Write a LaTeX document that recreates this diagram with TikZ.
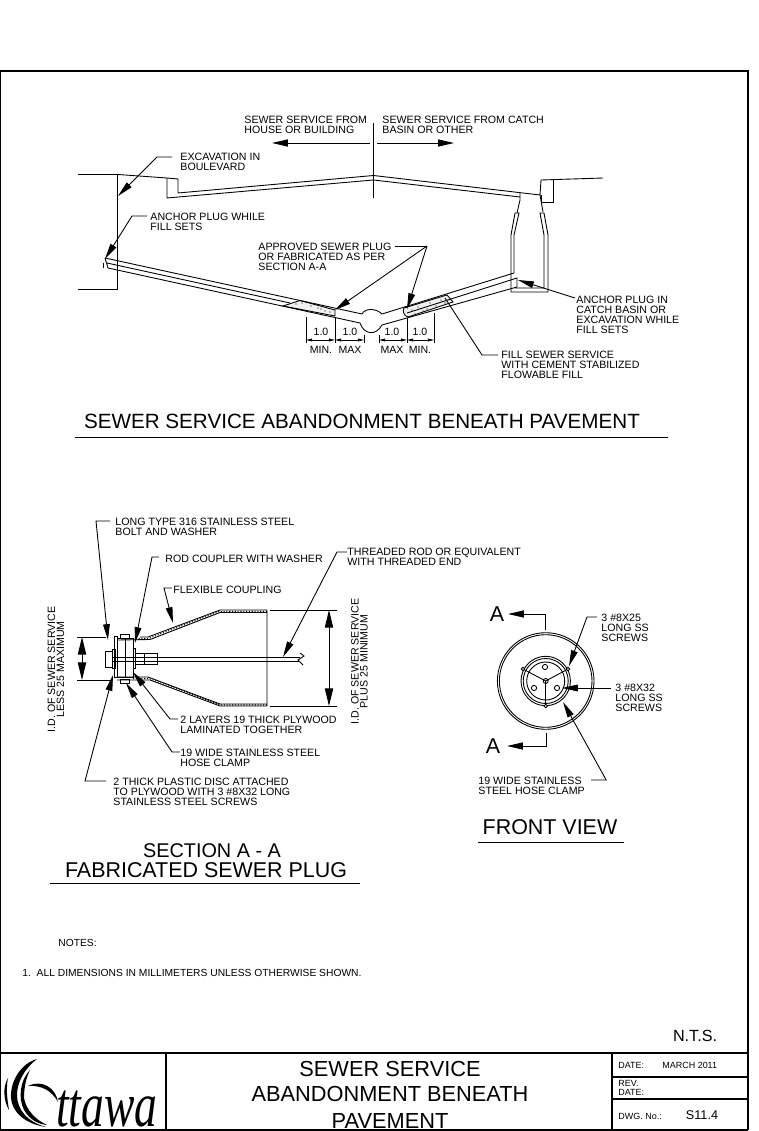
\documentclass[tikz,border=0pt]{standalone}
\usepackage{fontspec}
\setmainfont{Liberation Sans}
\newfontfamily\logofont{Liberation Serif}
\usetikzlibrary{arrows.meta}
\tikzset{
    lbl/.style={inner sep=0pt, anchor=north west, align=left, font=\fontsize{6.05}{5.67}\selectfont},
    dimtxt/.style={inner sep=0pt, font=\fontsize{6}{6}\selectfont},
    vertlbl/.style={inner sep=0pt, rotate=90, align=center, font=\fontsize{6.05}{5.1}\selectfont},
    heading/.style={inner sep=0pt, font=\fontsize{12.2}{12}\selectfont},
    block/.style={inner sep=0pt, font=\fontsize{12.4}{12}\selectfont},
    small/.style={inner sep=0pt, anchor=west, align=left, font=\fontsize{5.1}{5.4}\selectfont},
    leader/.style={-{Triangle[length=9pt,width=3.8pt]}},
    dimline/.style={{Triangle[length=3.5pt,width=1.6pt]}-{Triangle[length=3.5pt,width=1.6pt]}},
    bigdim/.style={{Triangle[length=10pt,width=4.7pt]}-{Triangle[length=10pt,width=4.7pt]}},
    sect/.style={-{Triangle[length=9pt,width=4pt]}},
    heavy/.style={line width=1.1pt},
}
\begin{document}
\begin{tikzpicture}[x=0.02cm, y=-0.02cm, line width=0.5pt]
\useasboundingbox (0,0) rectangle (759,1131);

% sheet and title block
\draw[line width=1.3pt] (0,71) -- (748,71) -- (748,1130);
\draw[line width=0.8pt] (0,71) -- (0,1130) -- (748,1130);
\draw[heavy] (0,1053) -- (748,1053);
\draw[heavy] (166,1053) -- (166,1130);
\draw[heavy] (612,1053) -- (612,1130);
\draw[heavy] (612,1077) -- (748,1077);
\draw[heavy] (612,1099) -- (748,1099);

% ground and pipe, upper view
\draw (78,174.5) -- (118,174.5) -- (167,178) -- (178,179) -- (178,193) -- (373.5,175.5) -- (540,195) -- (541,180) -- (603,178);
\draw (167,178) -- (167,198) -- (373.5,180) -- (520,197);
\draw (553,180) -- (553,202) -- (541,202) -- (541,195);
\draw (117.5,174.5) -- (117.5,289) -- (78,289);
\draw (373.5,123) -- (373.5,198);

% catch basin
\draw (520,193) -- (520,200) -- (517,213);
\draw (540,195) -- (543,212);
\draw (515,213) -- (519,213) -- (514,235) -- (514,273);
\draw (515,213) -- (511,235) -- (511,292) -- (548,292) -- (548,235) -- (544,213) -- (540,213) -- (544,235) -- (544,288) -- (515,288);

% plugs
\draw[fill=black!6] (300,300.5) -- (335,310) -- (335,316) -- (283,306) -- cycle;
\draw[fill=black!6] (404,308) -- (447,295) -- (453,302) -- (408,317) .. controls (404,316) and (402,311) .. (404,308);
\foreach \px/\py in {296/304,302/303,306/302,311/306,316/304,321/309,326/307,330/312,318/308,325/311,412/310,418/307,423/311,430/303,436/306,441/300,445/303,415/314,427/309} {
    \fill (\px,\py) circle (0.7);
}

% service lines
\draw (105,258) -- (362,314) .. controls (365,308) and (376,308) .. (382,314) -- (514,273);
\draw (108,268) -- (360,323) .. controls (364,335) and (376,336) .. (382,325) -- (517,287) -- (517,278) -- (407,313);
\draw (107,263) -- (290,303);
\draw (105,258) -- (108,268);
\draw (103,263) -- (103,268);

% dimensions
\draw (306,317) -- (306,343);
\draw (335,317) -- (335,343);
\draw (364,335) -- (364,343);
\draw (379,335) -- (379,343);
\draw (407,318) -- (407,343);
\draw (434,313) -- (434,343);
\draw[dimline] (306,340) -- (335,340);
\draw[dimline] (335,340) -- (364,340);
\draw[dimline] (379,340) -- (407,340);
\draw[dimline] (407,340) -- (434,340);
\node[dimtxt] (onea) at (321,332) {1.0};
\node[dimtxt] (oneb) at (350,332) {1.0};
\node[dimtxt] (onec) at (392,332) {1.0};
\node[dimtxt] (oned) at (420,332) {1.0};
\node[dimtxt] (mina) at (321,350) {MIN.};
\node[dimtxt] (maxa) at (350,350) {MAX};
\node[dimtxt] (maxb) at (392,350) {MAX};
\node[dimtxt] (minb) at (420,350) {MIN.};

% upper labels
\node[lbl] (house) at (244,116) {SEWER SERVICE FROM\\HOUSE OR BUILDING};
\node[lbl] (basin) at (382,116) {SEWER SERVICE FROM CATCH\\BASIN OR OTHER};
\coordinate (houseend) at (272,143);
\coordinate (basinend) at (454,143);
\draw[sect] (370,143) -- (houseend);
\draw[sect] (377,143) -- (basinend);

\node[lbl] (boulevard) at (180,153) {EXCAVATION IN\\BOULEVARD};
\coordinate (exedge) at (118,196);
\draw[leader] (boulevard.north west) ++(-8,4) -- ++(-15,0) -- (exedge);

\node[lbl] (anchorl) at (150,213) {ANCHOR PLUG WHILE\\FILL SETS};
\coordinate (anchorltip) at (105,259);
\draw[leader] (anchorl.north west) ++(-3,3) -- ++(-15,0) -- (anchorltip);

\node[lbl] (approved) at (258,243) {APPROVED SEWER PLUG\\OR FABRICATED AS PER\\SECTION A-A};
\coordinate (apprelbow) at (427,246);
\coordinate (plugltip) at (335,310);
\coordinate (plugrtip) at (407,309);
\draw (approved.north east) ++(3,3) -- (apprelbow);
\draw[leader] (apprelbow) -- (plugltip);
\draw[leader] (apprelbow) -- (plugrtip);

\node[lbl] (anchorr) at (576,296) {ANCHOR PLUG IN\\CATCH BASIN OR\\EXCAVATION WHILE\\FILL SETS};
\coordinate (anchorrtip) at (518,280);
\draw[leader] (anchorr.north west) ++(-1,2) -- (anchorrtip);

\node[lbl] (flowfill) at (501,351) {FILL SEWER SERVICE\\WITH CEMENT STABILIZED\\FLOWABLE FILL};
\coordinate (filledge) at (445,298);
\draw (flowfill.north west) ++(-3,4) -- ++(-16,0) -- (filledge);

\node[heading, font=\fontsize{11.75}{12}\selectfont] (toptitle) at (362,421) {SEWER SERVICE ABANDONMENT BENEATH PAVEMENT};
\draw (75,437) -- (668,437);

% section A-A
\draw (140,637) -- (148,637) -- (220,610) -- (267,610) -- (267,706) -- (220,706) -- (150,680) -- (117,680);
\draw (117,640) -- (150,639.5) -- (220,612.5) -- (267,612.5);
\draw (117,677) -- (148,677) -- (220,704) -- (267,704);
\draw[densely dotted, line width=0.6pt] (133,638.5) -- (149,638.3) -- (220,611.3) -- (267,611.3);
\draw[densely dotted, line width=0.6pt] (133,678.5) -- (149,678.5) -- (220,705) -- (267,705);
\draw (105,651) rectangle (112,667);
\draw (112,649) rectangle (115,668);
\draw (114,636) rectangle (117,677);
\draw (117,638) rectangle (133,677);
\draw (125,638) -- (125,677);
\draw (120,634) rectangle (129,638);
\draw (120,679) rectangle (129,683);
\draw (133,648) rectangle (135,668);
\draw (135,653) rectangle (157,664);
\draw (144,653) -- (144,664);
\draw (113,657.5) -- (300,657.5);
\draw (113,661) -- (300,661);
\draw (300,653) -- (304,656) -- (298,660) -- (303,665);

\draw (77,637) -- (106,637);
\draw (77,680) -- (112,680);
\draw (270,610) -- (337,610);
\draw (270,706) -- (337,706);
\draw[bigdim] (82,637) -- (82,680);
\draw[bigdim] (329,610) -- (329,706);
\node[vertlbl] (lessmax) at (56,669.5) {I.D. OF SEWER SERVICE\\LESS 25 MAXIMUM};
\node[vertlbl] (plusmin) at (359.5,661.5) {I.D. OF SEWER SERVICE\\PLUS 25 MINIMUM};

\node[lbl] (bolt) at (115,518) {LONG TYPE 316 STAINLESS STEEL\\BOLT AND WASHER};
\coordinate (bolttip) at (108,640);
\draw[leader] (bolt.north west) ++(-5,3) -- ++(-14,0) -- (bolttip);

\node[lbl] (rodcoupler) at (165,555) {ROD COUPLER WITH WASHER};
\coordinate (couplertip) at (135,643);
\draw[leader] (rodcoupler.north west) ++(-6,2) -- ++(-7,0) -- (couplertip);

\node[lbl] (flexible) at (173,586) {FLEXIBLE COUPLING};
\coordinate (flextip) at (173,623);
\draw[leader] (flexible.north west) ++(-1,2) -- ++(-8,0) -- (flextip);

\node[lbl] (threaded) at (347,548) {THREADED ROD OR EQUIVALENT\\WITH THREADED END};
\coordinate (threadtip) at (283,657);
\draw[leader] (threaded.north west) ++(0,4) -- ++(-10,0) -- (threadtip);

\node[lbl] (plywood) at (180,716) {2 LAYERS 19 THICK PLYWOOD\\LAMINATED TOGETHER};
\coordinate (plytip) at (133,672);
\draw[leader] (plywood.north west) ++(-2,3) -- ++(-8,0) -- (plytip);

\node[lbl] (clampa) at (180,749) {19 WIDE STAINLESS STEEL\\HOSE CLAMP};
\coordinate (clamptip) at (126,683);
\draw[leader] (clampa.north west) ++(0,3) -- ++(-8,0) -- (clamptip);

\node[lbl] (disc) at (113,778) {2 THICK PLASTIC DISC ATTACHED\\TO PLYWOOD WITH 3 \#8X32 LONG\\STAINLESS STEEL SCREWS};
\coordinate (disctip) at (113,675);
\draw[leader] (disc.north west) ++(-7,3) -- ++(-21,0) -- (disctip);

\node[heading, font=\fontsize{11.3}{12}\selectfont] (secta) at (212,851) {SECTION A - A};
\node[heading] (fabplug) at (206,870) {FABRICATED SEWER PLUG};
\draw (50,883) -- (360,883);

% front view
\draw (545.7,681) circle (48.3);
\draw (545.7,681) circle (46.3);
\draw (545.7,681) circle (24.7);
\draw (545.7,681) circle (22.5);
\draw (545.7,681) circle (19);
\draw (545.7,681) circle (2.5);
\foreach \tx/\ty in {523/669,568/669,545.7/706} {
    \draw (545.7,681) -- (\tx,\ty);
    \draw[fill=white] (\tx,\ty) circle (1.8);
}
\foreach \hx/\hy in {545/667,534/688,557/688} {
    \draw (\hx,\hy) circle (2.6);
}
\node[heading] (atop) at (497,614) {A};
\node[heading] (abot) at (493,746) {A};
\coordinate (atopend) at (508,614);
\coordinate (abotend) at (507,746);
\draw[sect] (545,630) -- (545,614) -- (atopend);
\draw[sect] (546,733) -- (546,746) -- (abotend);

\node[lbl] (screwa) at (601,614) {3 \#8X25\\LONG SS\\SCREWS};
\coordinate (screwatip) at (569,666);
\draw[leader] (screwa.north west) ++(-4,3) -- ++(-10,0) -- (screwatip);

\node[lbl] (screwb) at (615,684) {3 \#8X32\\LONG SS\\SCREWS};
\coordinate (screwbtip) at (562,688);
\draw[leader] (screwb.north west) ++(-4,4) -- (screwbtip);

\node[lbl] (clampb) at (478,777) {19 WIDE STAINLESS\\STEEL HOSE CLAMP};
\coordinate (clampbtip) at (563,702);
\draw[leader] (clampb.north east) ++(6,3) -- ++(15,0) -- (clampbtip);

\node[heading] (frontview) at (550,827) {FRONT VIEW};
\draw (478,842) -- (624,842);

% notes
\node[lbl, font=\fontsize{5.85}{6}\selectfont] (notes) at (58,939) {NOTES:};
\node[lbl, font=\fontsize{5.85}{6}\selectfont] (noteone) at (22,969) {1.\ \ ALL DIMENSIONS IN MILLIMETERS UNLESS OTHERWISE SHOWN.};
\node[inner sep=0pt, font=\fontsize{9.2}{9}\selectfont] (nts) at (695,1036) {N.T.S.};

% title block text
\node[block] (bka) at (390,1069) {SEWER SERVICE};
\node[block] (bkb) at (390,1094) {ABANDONMENT BENEATH};
\node[block] (bkc) at (390,1121) {PAVEMENT};
\node[small] (dta) at (618,1065.5) {DATE:};
\node[small] (dtb) at (662,1065) {MARCH 2011};
\node[small] (dtc) at (618,1088) {REV.\\DATE:};
\node[small] (dwg) at (618,1116) {DWG. No.:};
\node[inner sep=0pt, font=\fontsize{7.2}{8}\selectfont] (sheetno) at (702,1115) {S11.4};

% logo
\node[inner sep=0pt, anchor=base west, xscale=0.72, font=\fontsize{36}{36}\selectfont\logofont\itshape] (ttawa) at (56,1126) {ttawa};
\fill (37,1059) .. controls (22,1063) and (10,1080) .. (11,1098) .. controls (12,1112) and (25,1124) .. (46,1127) .. controls (28,1122) and (17,1110) .. (17,1095) .. controls (17,1082) and (25,1068) .. (37,1059) -- cycle;
\fill (30,1070) .. controls (20,1080) and (18,1098) .. (24,1110) .. controls (30,1120) and (38,1124) .. (47,1125) .. controls (36,1120) and (26,1110) .. (24,1098) .. controls (24,1088) and (26,1078) .. (30,1070) -- cycle;
\fill (8,1078) .. controls (3,1086) and (3,1100) .. (9,1110) .. controls (7,1098) and (6,1088) .. (8,1078) -- cycle;
\fill (28,1086) .. controls (42,1079) and (56,1088) .. (58,1102) .. controls (52,1091) and (42,1085) .. (28,1086) -- cycle;
\end{tikzpicture}
\end{document}
